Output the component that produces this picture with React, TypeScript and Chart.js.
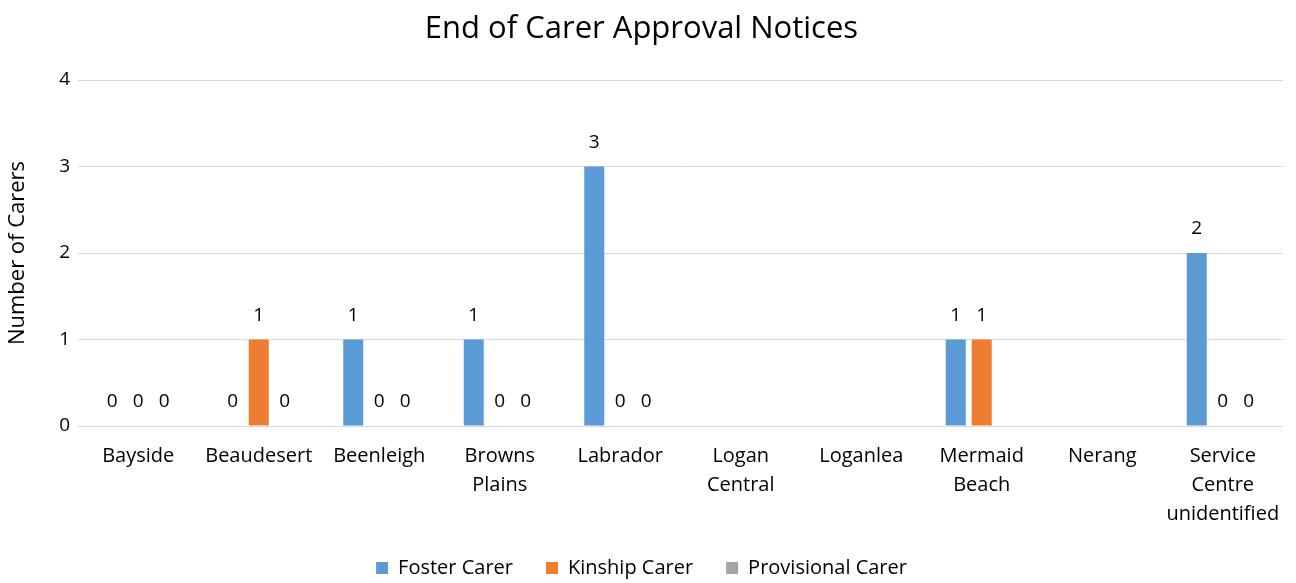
import React, { useEffect, useRef } from "react";
import { Chart, registerables } from "chart.js";

Chart.register(...registerables);

const TITLE = "End of Carer Approval Notices";
const Y_TITLE = "Number of Carers";
const CATEGORIES: (string | string[])[] = [
  "Bayside",
  "Beaudesert",
  "Beenleigh",
  ["Browns", "Plains"],
  "Labrador",
  ["Logan", "Central"],
  "Loganlea",
  ["Mermaid", "Beach"],
  "Nerang",
  ["Service", "Centre", "unidentified"],
];
const FOSTER = [0, 0, 1, 1, 3, null, null, 1, null, 2];
const KINSHIP = [0, 1, 0, 0, 0, null, null, 1, null, 0];
const PROVISIONAL = [0, 0, 0, 0, 0, null, null, null, null, 0];
const SERIES_NAMES = ["Foster Carer", "Kinship Carer", "Provisional Carer"];
const COLORS = ["#5B9BD5", "#ED7D31", "#A5A5A5"];
const Y_TICKS = [0, 1, 2, 3, 4];

const FONT = "'Open Sans', sans-serif";

const dataLabels = {
  id: "dataLabels",
  afterDatasetsDraw(chart: any) {
    const ctx = chart.ctx;
    ctx.save();
    ctx.font = `19px ${FONT}`;
    ctx.fillStyle = "#000";
    ctx.textAlign = "center";
    ctx.textBaseline = "middle";
    chart.data.datasets.forEach((ds: any, i: number) => {
      const meta = chart.getDatasetMeta(i);
      meta.data.forEach((el: any, j: number) => {
        const v = ds.data[j];
        if (v === null || v === undefined) return;
        ctx.fillText(String(v), el.x, el.y - 24);
      });
    });
    ctx.restore();
  },
};

export default function App() {
  const ref = useRef<HTMLCanvasElement>(null);
  useEffect(() => {
    if (!ref.current) return;
    const chart = new Chart(ref.current, {
      type: "bar",
      data: {
        labels: CATEGORIES,
        datasets: [FOSTER, KINSHIP, PROVISIONAL].map((d, i) => ({
          label: SERIES_NAMES[i],
          data: d,
          backgroundColor: COLORS[i],
          borderWidth: 0,
          categoryPercentage: 0.647,
          barPercentage: 0.77,
        })),
      },
      options: {
        animation: false,
        responsive: false,
        maintainAspectRatio: false,
        layout: { padding: { left: 0, right: 13, top: 0, bottom: -5 } },
        plugins: {
          title: {
            display: true,
            text: TITLE,
            color: "#000",
            font: { family: FONT, size: 31, weight: "normal" },
            padding: { top: 10.4, bottom: 32.4 },
          },
          legend: {
            position: "bottom",
            labels: {
              color: "#000",
              font: { family: FONT, size: 20 },
              boxWidth: 12,
              boxHeight: 12,
              padding: 33,
            },
          },
          tooltip: { enabled: false },
        },
        scales: {
          x: {
            grid: { display: false, drawTicks: false },
            border: { display: false },
            ticks: {
              color: "#000",
              font: { family: FONT, size: 20, lineHeight: 1.45 },
              padding: 16,
              maxRotation: 0,
              minRotation: 0,
              autoSkip: false,
            },
            afterFit: (s: any) => {
              s.height = 99;
            },
          },
          y: {
            min: 0,
            max: 4,
            afterBuildTicks: (s: any) => {
              s.ticks = Y_TICKS.map((v) => ({ value: v }));
            },
            grid: { color: "#D9D9D9", lineWidth: 1, drawTicks: false },
            border: { display: false },
            ticks: {
              color: "#000",
              font: { family: FONT, size: 19 },
              padding: 8,
            },
            title: {
              display: true,
              text: Y_TITLE,
              color: "#000",
              font: { family: FONT, size: 22 },
              padding: { top: 4.8, bottom: 0 },
            },
            afterFit: (s: any) => {
              s.width = 78;
            },
          },
        },
      },
      plugins: [dataLabels],
    });
    return () => chart.destroy();
  }, []);
  return (
    <div style={{ position: "absolute", left: 0, top: 0, width: 1296, height: 583 }}>
      <canvas ref={ref} width={1296} height={583} style={{ display: "block" }} />
    </div>
  );
}
